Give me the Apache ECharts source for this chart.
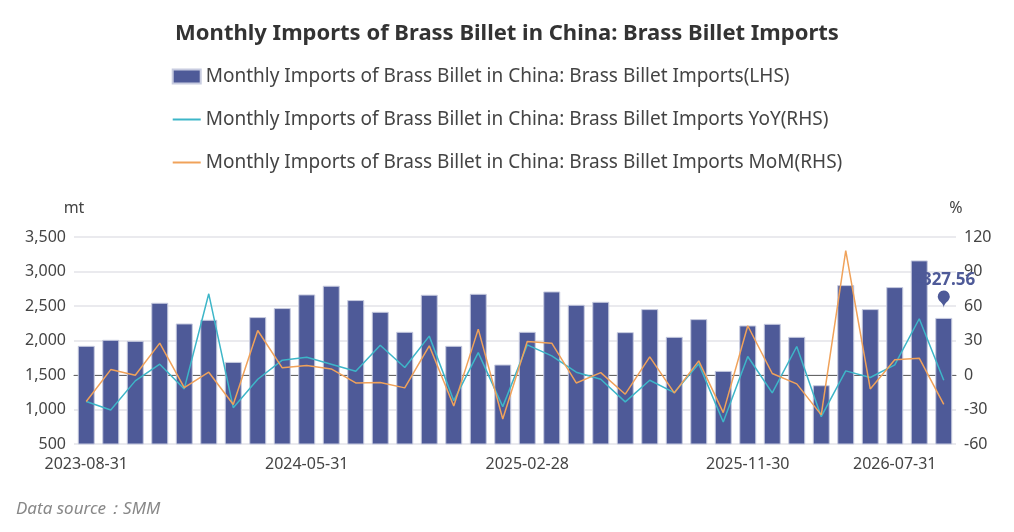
<!DOCTYPE html>
<html>
<head>
<meta charset="utf-8">
<script src="https://cdn.jsdelivr.net/npm/echarts@6/dist/echarts.min.js"></script>
<style>
html,body{margin:0;padding:0;background:#fff;}
#main{width:1014px;height:532px;}
</style>
</head>
<body>
<div id="main"></div>
<script>
var dates = ['2023-08-31','2023-09-30','2023-10-31','2023-11-30','2023-12-31','2024-01-31','2024-02-29','2024-03-31','2024-04-30',
	'2024-05-31','2024-06-30','2024-07-31','2024-08-31','2024-09-30','2024-10-31','2024-11-30','2024-12-31','2025-01-31',
	'2025-02-28','2025-03-31','2025-04-30','2025-05-31','2025-06-30','2025-07-31','2025-08-31','2025-09-30','2025-10-31',
	'2025-11-30','2026-02-28','2026-03-31','2026-04-30','2026-05-31','2026-06-30','2026-07-31','2026-08-31','2026-09-30'];
var imports = [1923,2010,1995,2547,2247,2300,1690,2339,2470,2668,2794,2586,2416,2126,2663,1923,2677,1652,
	2126,2711,2518,2561,2121,2455,2053,2310,1560,2218,2242,2053,1352,2803,2455,2774,3161,2327.56];
var yoy = [-23.1,-30.4,-5.1,9.4,-12.1,70.6,-28.4,-3.7,12.9,15.5,9.4,3.3,25.9,6.5,33.8,-22.3,19.5,-27.5,
	26.2,16.6,2.4,-3.7,-23.4,-4.6,-15.3,9.7,-40.8,16.1,-15.6,24.8,-36.2,3.6,-2.2,8.8,48.9,-4.6];
var mom = [-23.1,4.7,-0.2,27.7,-11.0,2.4,-25.7,38.7,6.2,8.2,5.3,-6.9,-6.6,-11.2,25.4,-26.9,39.9,-38.2,
	29.1,27.7,-6.9,2.1,-16.7,15.8,-15.6,12.3,-32.7,42.8,1.3,-7.7,-34.7,108.1,-12.1,13.2,14.6,-25.5];
var labelIdx = [0,9,18,27,33];

var chart = echarts.init(document.getElementById('main'));
var font = 'Microsoft YaHei, "Noto Sans", sans-serif';
chart.setOption({
	textStyle:{fontFamily:font},
	title:{
		text:'Monthly Imports of Brass Billet in China: Brass Billet Imports',
		left:'center', top:18,
		textStyle:{fontSize:22, fontWeight:'bold', color:'#333', fontFamily:font}
	},
	legend:{
		orient:'vertical', top:62, left:'center', itemGap:24,
		itemWidth:28, itemHeight:14,
		textStyle:{fontSize:19, color:'#444'},
		data:[
			{name:'Monthly Imports of Brass Billet in China: Brass Billet Imports(LHS)', icon:'rect'},
			{name:'Monthly Imports of Brass Billet in China: Brass Billet Imports YoY(RHS)', icon:'path://M0,6h28v2h-28z'},
			{name:'Monthly Imports of Brass Billet in China: Brass Billet Imports MoM(RHS)', icon:'path://M0,6h28v2h-28z'}
		]
	},
	graphic:[{type:'text', left:16, top:501,
		style:{text:'Data source：SMM', fontSize:17, fontStyle:'italic', fill:'#888', fontFamily:font}}],
	grid:{left:74, right:58, top:237, bottom:88},
	xAxis:{
		type:'category', data:dates,
		axisTick:{show:false},
		axisLine:{onZeroAxisIndex:1, lineStyle:{color:'#666'}},
		axisLabel:{fontSize:16, color:'#444', margin:12,
			interval:function(i){ return labelIdx.indexOf(i) >= 0; }}
	},
	yAxis:[
		{type:'value', name:'mt', min:500, max:3500, interval:500,
			nameTextStyle:{fontSize:16, color:'#444', padding:[0,0,6,0]},
			axisLabel:{fontSize:16, color:'#444', formatter:function(v){return v.toLocaleString('en-US');}},
			splitLine:{lineStyle:{color:'#e3e3e8', width:1.5}}},
		{type:'value', name:'%', min:-60, max:120, interval:30,
			nameTextStyle:{fontSize:16, color:'#444', padding:[0,0,6,0]},
			axisLabel:{fontSize:16, color:'#444'},
			splitLine:{show:false}}
	],
	series:[
		{name:'Monthly Imports of Brass Billet in China: Brass Billet Imports(LHS)', type:'bar',
			data:imports, barWidth:17,
			itemStyle:{color:'#4e5a98', borderColor:'#c8cce0', borderWidth:1},
			markPoint:{
				symbol:'pin', symbolSize:20,
				data:[{coord:[35, imports[35]], value:imports[35]}],
				symbolOffset:[0,-10],
				itemStyle:{color:'#4e5a98'},
				label:{show:true, position:'top', fontSize:17, fontWeight:'bold', color:'#4e5a98', distance:2}
			}},
		{name:'Monthly Imports of Brass Billet in China: Brass Billet Imports YoY(RHS)', type:'line',
			yAxisIndex:1, data:yoy, symbol:'none', lineStyle:{color:'#3db6c8', width:1.5}, itemStyle:{color:'#3db6c8'}},
		{name:'Monthly Imports of Brass Billet in China: Brass Billet Imports MoM(RHS)', type:'line',
			yAxisIndex:1, data:mom, symbol:'none', lineStyle:{color:'#f0a25a', width:1.5}, itemStyle:{color:'#f0a25a'}}
	]
});
</script>
</body>
</html>
